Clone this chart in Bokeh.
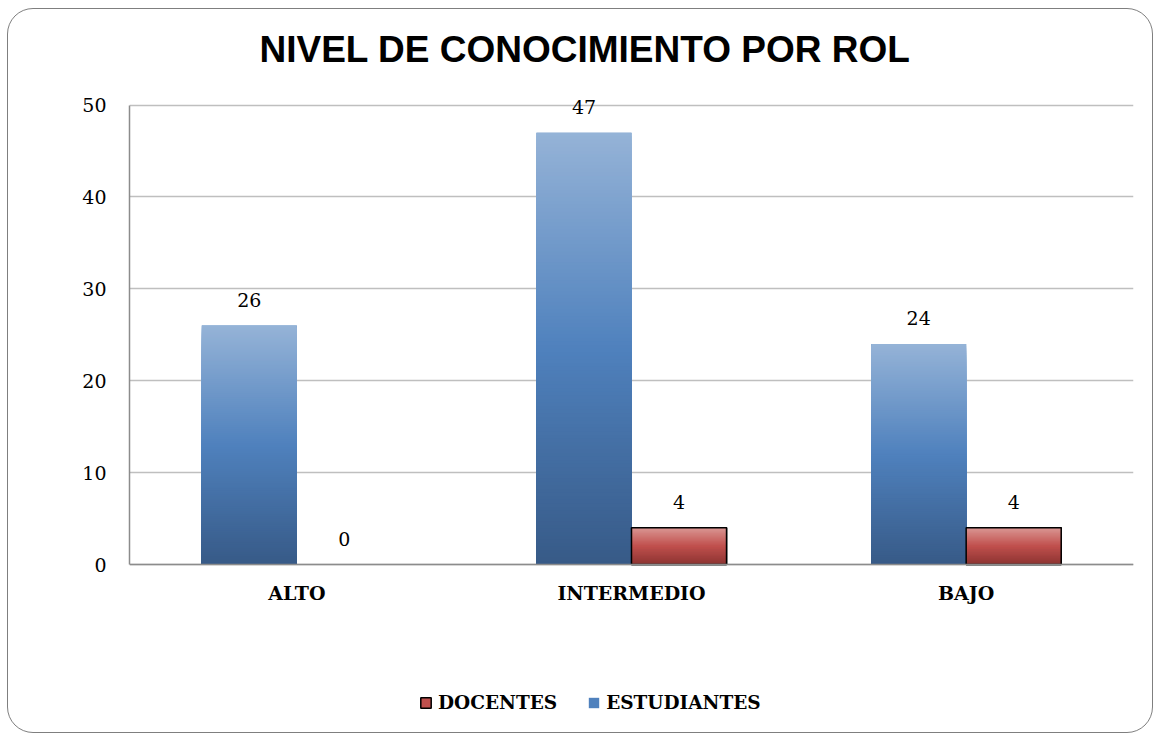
from bokeh.plotting import figure
from bokeh.models import ColumnDataSource, Range1d, FactorRange, Legend, LegendItem, FixedTicker, Span
from bokeh.transform import dodge
from bokeh.core.properties import value
from bokeh.embed import file_html
from bokeh.resources import INLINE

# ---- data ----
categories = ["ALTO", "INTERMEDIO", "BAJO"]
estudiantes = [26, 47, 24]
docentes = [0, 4, 4]
y_ticks = [0, 10, 20, 30, 40, 50]
series_names = ["DOCENTES", "ESTUDIANTES"]
title_text = "NIVEL DE CONOCIMIENTO POR ROL"

SERIF = "DejaVu Serif"
SANS = "Liberation Sans"

BLUE = ((149, 179, 215), (79, 129, 189), (55, 90, 135))   # top, mid, bottom
RED = ((218, 150, 148), (192, 80, 77), (140, 52, 50))

EST_OFF = -0.142
DOC_OFF = 0.142
BAR_W = 0.284
N_SLICES = 120


def mix(a, b, t):
    return tuple(int(round(a[i] + (b[i] - a[i]) * t)) for i in range(3))


def grad_color(pal, t):
    top, mid, bot = pal
    if t < 0.5:
        c = mix(bot, mid, t / 0.5)
    else:
        c = mix(mid, top, (t - 0.5) / 0.5)
    return "#%02x%02x%02x" % c


def nested(values, pal):
    # nested bars from the top colour (tallest) down to the bottom colour (shortest)
    d = dict(cat=[], top=[], color=[])
    for k in range(N_SLICES - 1, -1, -1):
        for cat, v in zip(categories, values):
            if v <= 0:
                continue
            d["cat"].append(cat)
            d["top"].append(v * (k + 1) / N_SLICES)
            d["color"].append(grad_color(pal, (k + 0.5) / N_SLICES))
    return ColumnDataSource(d)


p = figure(
    x_range=FactorRange(*categories, range_padding=0),
    y_range=Range1d(-17.63, 53),
    width=1146, height=725,
    output_backend="svg", toolbar_location=None,
    min_border_left=121, min_border_right=21, min_border_top=68, min_border_bottom=8,
)
p.margin = (8, 0, 0, 7)
p.styles = {"border": "1.5px solid #7f7f7f", "border-radius": "26px", "overflow": "hidden"}
p.background_fill_color = None
p.border_fill_color = None
p.outline_line_color = None

# title
p.title.text = title_text
p.title.text_font = SANS
p.title.text_font_size = "37px"
p.title.text_font_style = "bold"
p.title.text_color = "black"
p.title.align = "left"
p.title.offset = 130
p.title.standoff = 16

# grid / axes
p.xgrid.grid_line_color = None
p.ygrid.grid_line_color = "#bfbfbf"
p.ygrid.grid_line_width = 1.5
p.yaxis.ticker = FixedTicker(ticks=y_ticks)
p.yaxis.bounds = (y_ticks[0], y_ticks[-1])
p.yaxis.axis_line_color = "#8c8c8c"
p.yaxis.axis_line_width = 1.5
p.yaxis.major_tick_line_color = None
p.yaxis.minor_tick_line_color = None
p.yaxis.major_label_text_font = SERIF
p.yaxis.major_label_text_font_size = "19px"
p.yaxis.major_label_text_color = "black"
p.yaxis.major_label_standoff = 17
p.xaxis.visible = False

xe = dodge("cat", EST_OFF, range=p.x_range)
xd = dodge("cat", DOC_OFF, range=p.x_range)

# base solid bars (also used as legend glyphs)
r_est = p.vbar(x=xe, top="val", bottom=0, width=BAR_W, fill_color="#4f81bd", line_color=None,
               source=ColumnDataSource(dict(cat=categories, val=estudiantes)))
nz = [(c, v) for c, v in zip(categories, docentes) if v > 0]
doc_nz = ColumnDataSource(dict(cat=[c for c, _ in nz], val=[v for _, v in nz]))
r_doc = p.vbar(x=xd, top="val", bottom=0, width=BAR_W, fill_color="#c0504d",
               line_color="black", line_width=1.5, source=doc_nz)

# gradient overlays
p.vbar(x=xe, top="top", bottom=0, width=BAR_W, fill_color="color", line_color=None,
       source=nested(estudiantes, BLUE))
p.vbar(x=xd, top="top", bottom=0, width=BAR_W, fill_color="color", line_color=None,
       source=nested(docentes, RED))

# outline for docentes bars (only non-zero bars)
p.vbar(x=xd, top="val", bottom=0, width=BAR_W, fill_color=None, line_color="black",
       line_width=1.5, source=doc_nz)

# category axis line at zero
p.add_layout(Span(location=0, dimension="width", line_color="#8c8c8c", line_width=1.5))

# category labels
p.text(x="cat", y="y", text="cat",
       source=ColumnDataSource(dict(cat=categories, y=[0] * len(categories))),
       text_font=value(SERIF), text_font_size="19px", text_font_style="bold",
       text_align="center", text_baseline="middle", y_offset=28, text_color="black")

# data labels
p.text(x=xe, y="val", text="txt",
       source=ColumnDataSource(dict(cat=categories, val=estudiantes, txt=[str(v) for v in estudiantes])),
       text_font=value(SERIF), text_font_size="19px", text_align="center",
       text_baseline="middle", y_offset=-26, text_color="black")
p.text(x=xd, y="val", text="txt",
       source=ColumnDataSource(dict(cat=categories, val=docentes, txt=[str(v) for v in docentes])),
       text_font=value(SERIF), text_font_size="19px", text_align="center",
       text_baseline="middle", y_offset=-26, text_color="black")

legend = Legend(
    items=[LegendItem(label=series_names[0], renderers=[r_doc]),
           LegendItem(label=series_names[1], renderers=[r_est])],
    orientation="horizontal", location=(290, 13),
    border_line_color=None, background_fill_color=None,
    label_text_font=SERIF, label_text_font_size="18.5px", label_text_font_style="bold",
    label_text_color="black",
    glyph_width=13, glyph_height=13, label_standoff=6, spacing=30,
    padding=0, margin=0,
)
p.add_layout(legend, "center")

open("out.html", "w").write(file_html(p, INLINE))
